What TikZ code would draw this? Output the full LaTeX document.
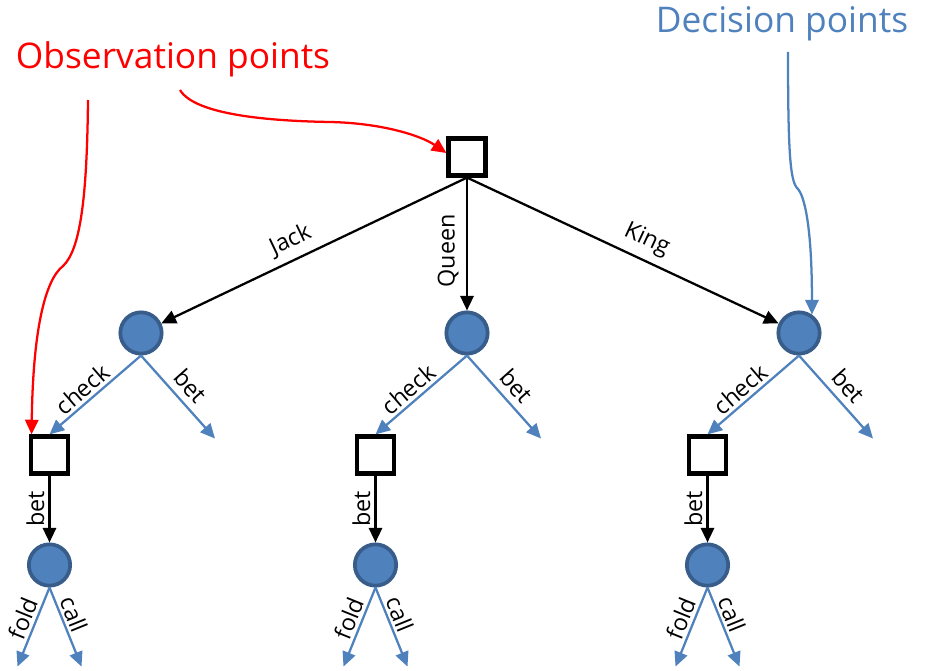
\documentclass[tikz,border=0pt]{standalone}
\usepackage{fontspec}
\setmainfont{Open Sans}
\usetikzlibrary{arrows.meta}
\definecolor{decblue}{RGB}{79,129,189}
\definecolor{decedge}{RGB}{56,93,138}
\begin{document}
\begin{tikzpicture}[x=75pt, y=-75pt,
		obs/.style={draw, line width=3.4pt, fill=white, minimum size=27.5pt, inner sep=0pt},
		dec/.style={circle, draw=decedge, line width=2.8pt, fill=decblue, minimum size=31pt, inner sep=0pt},
		card/.style={line width=1.7pt, -{Triangle[length=11pt, width=10pt]}},
		act/.style={card, draw=decblue},
		note/.style={line width=1.7pt, -{Triangle[length=11pt, width=10pt]}},
		lbl/.style={font=\fontsize{17.5}{20}\selectfont, midway, sloped, above, inner sep=2pt},
		big/.style={font=\fontsize{26.5}{32}\selectfont}]

		\useasboundingbox (0,0) rectangle (9.26,6.70);

		\node[obs] (deal) at (4.67,1.57) {};

		\foreach \card/\x/\turn in {Jack/1.41/0,Queen/4.67/180,King/7.99/0}{
			\node[dec] (\card) at (\x,3.33) {};
			\node[obs] (\card-obs) at (\x-0.915,4.55) {};
			\node[dec] (\card-end) at (\x-0.915,5.65) {};
			\coordinate (\card-bet) at ([shift={(0.74,0.83)}]\card.south);
			\coordinate (\card-fold) at ([shift={(-0.32,0.79)}]\card-end.south);
			\coordinate (\card-call) at ([shift={(0.32,0.79)}]\card-end.south);

			\draw[card] (deal.south) -- (\card) node[lbl, pos=0.55, rotate=\turn, inner sep=5.5pt] {\card};
			\draw[act] (\card.south) -- (\card-obs.north) node[lbl, pos=0.55] {check};
			\draw[act] (\card.south) -- (\card-bet) node[lbl, inner sep=5pt] {bet};
			\draw[card] (\card-obs.south) -- (\card-end.north) node[lbl, rotate=180, inner sep=3pt] {bet};
			\draw[act] (\card-end.south) -- (\card-fold) node[lbl, pos=0.45] {fold};
			\draw[act] (\card-end.south) -- (\card-call) node[lbl, pos=0.4] {call};
		}

		\node[big, text=red] (obs-note) at (1.73,0.59) {Observation points};
		\node[big, text=decblue] (dec-note) at (7.82,0.24) {Decision points};

		\coordinate (obs-a) at (1.80,0.90);
		\coordinate (obs-b) at (0.88,1.00);
		\coordinate (dec-a) at (7.88,0.52);

		\draw[note, red] (obs-a) .. controls (1.95,1.15) and (2.70,1.21) .. (3.30,1.22)
			.. controls (3.80,1.23) and (4.20,1.35) .. ([yshift=3pt]deal.west);
		\draw[note, red] (obs-b) .. controls (0.87,2.00) and (0.80,2.50) .. (0.63,2.66)
			.. controls (0.45,2.80) and (0.33,3.30) .. ([xshift=2pt]Jack-obs.north west);
		\draw[note, decblue] (dec-a) .. controls (7.88,1.50) and (7.90,1.80) .. (7.97,1.88)
			.. controls (8.05,1.95) and (8.12,2.30) .. (King.55);

		\end{tikzpicture}
\end{document}
